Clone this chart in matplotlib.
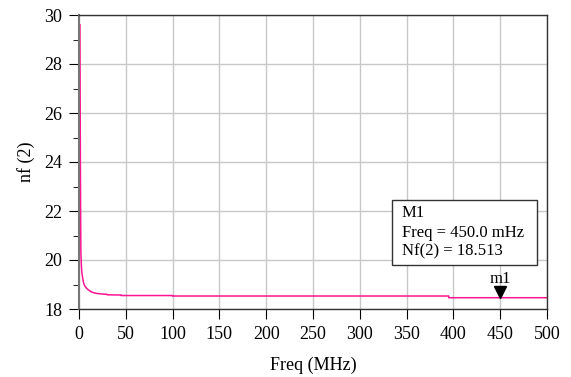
import matplotlib.pyplot as plt
import matplotlib.transforms as mtransforms
from matplotlib.patches import Rectangle
from matplotlib.ticker import MultipleLocator

plt.rcParams['font.family'] = ['Liberation Serif', 'DejaVu Serif']

# noise figure vs frequency
freq_mhz = [1, 1.2, 1.5, 1.8, 2, 2.5, 3, 4, 5, 6, 8, 10, 13, 16, 20, 25, 30, 30, 45, 45,
            100, 100, 395, 395, 500]
nf = [29.6, 27.0, 24.0, 21.5, 20.3, 19.8, 19.5, 19.25, 19.05, 18.95, 18.85, 18.78, 18.7,
      18.66, 18.63, 18.61, 18.6, 18.58, 18.57, 18.55, 18.55, 18.53, 18.53, 18.46, 18.46]

marker_freq = 450
marker_nf = 18.46
marker_lines = ["M1", "Freq = 450.0 mHz", "Nf(2) = 18.513"]

fig = plt.figure(figsize=(5.71, 3.77), dpi=100)
ax = fig.add_axes([79 / 571, 1 - 309 / 377, 468 / 571, 294 / 377])

ax.plot(freq_mhz, nf, color='#ff1493', lw=1.1)

ax.set_xlim(0, 500)
ax.set_ylim(18, 30)
ax.xaxis.set_major_locator(MultipleLocator(50))
ax.yaxis.set_major_locator(MultipleLocator(2))
ax.yaxis.set_minor_locator(MultipleLocator(1))
ax.grid(True, color='#c8c8c8', lw=1)
ax.set_axisbelow(True)
ax.tick_params(axis='both', which='major', direction='out', length=7, pad=5,
               labelsize=13, color='black')
ax.tick_params(axis='y', which='minor', direction='out', length=4)
for s in ax.spines.values():
    s.set_color('#333333')
    s.set_linewidth(1)
ax.spines['left'].set_color('#777777')
ax.spines['left'].set_linewidth(1.5)

ax.set_xlabel("Freq (MHz)", fontsize=13, labelpad=10)
ax.set_ylabel("nf (2)", fontsize=13, labelpad=7)

# marker triangle, lifted so its tip sits on the trace
lift = mtransforms.ScaledTranslation(0, 4 / 72, fig.dpi_scale_trans)
ax.plot([marker_freq], [marker_nf], marker='v', color='black', markersize=8,
        linestyle='none', clip_on=False, transform=ax.transData + lift)
ax.annotate("m1", (marker_freq, marker_nf), xytext=(0, 8), textcoords='offset points',
            ha='center', va='bottom', fontsize=12)

# marker readout box
box = Rectangle((334, 19.81), 155, 2.63, facecolor='white', edgecolor='#333333',
                lw=1, zorder=4)
ax.add_patch(box)
ty = 22.44 - 0.54
for i, t in enumerate(marker_lines):
    ax.text(345, ty - 0.78 * i, t, fontsize=12, va='center', ha='left', zorder=5)

fig.savefig("out.png", dpi=100)
